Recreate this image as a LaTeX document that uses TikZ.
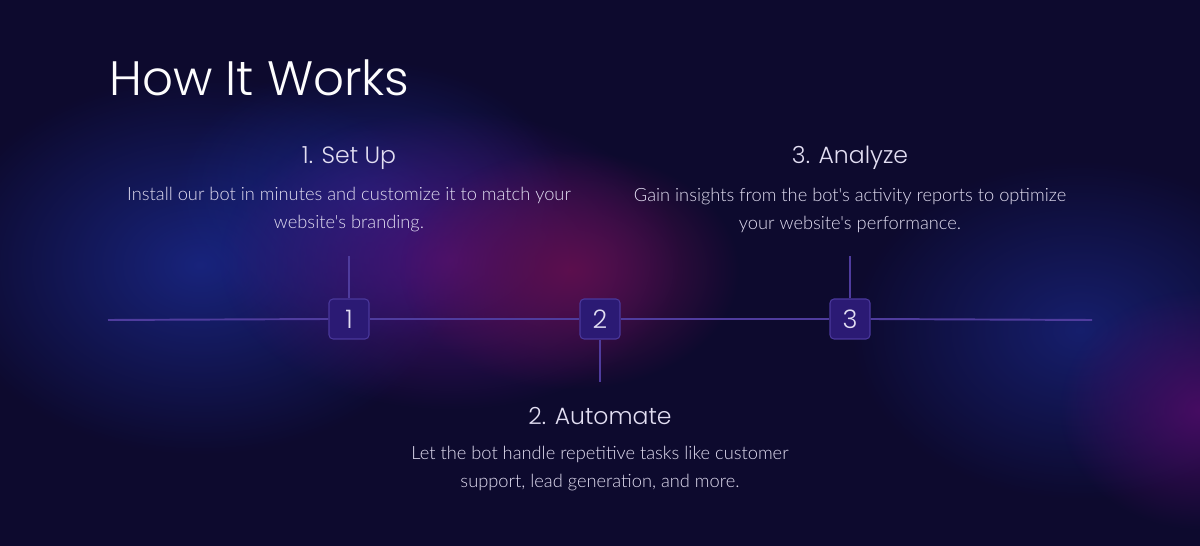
\documentclass[tikz,border=0pt]{standalone}
\usepackage{fontspec}
\usepackage{xcolor}
\usetikzlibrary{fadings}
\newfontfamily\headfont{Poppins}[UprightFont={* Light}]
\newfontfamily\bodyfont{Lato}[UprightFont={* Light}]

\definecolor{bgdark}{HTML}{0D0A2E}
\definecolor{txtlight}{HTML}{E2DEF2}
\definecolor{linepurple}{HTML}{4F3C9E}
\definecolor{boxfill}{HTML}{2B1A74}
\definecolor{boxedge}{HTML}{4A389C}
\definecolor{blobblue}{HTML}{1C2C96}
\definecolor{blobpurple}{HTML}{4E1277}
\definecolor{blobred}{HTML}{5C0F4E}
\definecolor{blobviolet}{HTML}{4C0C66}

\tikzfading[name=blobfade, inner color=transparent!0, outer color=transparent!100]

\tikzset{
  blob/.style={path fading=blobfade},
  stepbox/.style={draw=boxedge, fill=boxfill, rounded corners=0.08cm, minimum size=0.8cm,
    inner sep=0pt, line width=0.6pt, text=txtlight, font=\headfont\fontsize{14.5}{14.5}\selectfont},
  stephead/.style={text=txtlight, font=\headfont\fontsize{13.4}{15}\selectfont},
  stepbody/.style={text=txtlight, align=center, font=\bodyfont\fontsize{10.4}{15.9}\selectfont},
  timeline/.style={draw=linepurple, line width=1.1pt},
  tick/.style={draw=linepurple, line width=0.8pt}
}

\begin{document}
\begin{tikzpicture}[x=0.02cm, y=-0.02cm]
        % background
        \fill[bgdark] (0,0) rectangle (1200,546);
        \useasboundingbox (0,0) rectangle (1200,546);
        \fill[blobblue, blob, opacity=0.75] (200,265) ellipse (260 and 190);
        \fill[blobblue, blob, opacity=0.65] (370,200) ellipse (200 and 140);
        \fill[blobpurple, blob, opacity=0.9] (450,260) ellipse (230 and 150);
        \fill[blobred, blob] (570,270) ellipse (170 and 120);
        \fill[blobblue, blob, opacity=0.6] (1080,330) ellipse (230 and 170);
        \fill[blobviolet, blob, opacity=0.9] (1200,410) ellipse (140 and 120);

        \node[text=white!95!txtlight, anchor=west, font=\headfont\fontsize{27.5}{28}\selectfont] (title) at (103,78) {How It Works};

        % steps
        \node[stepbox] (s1) at (349,319) {1};
        \node[stepbox] (s2) at (600,319) {2};
        \node[stepbox] (s3) at (850,319) {3};

        \coordinate (lineL) at (108,320);
        \coordinate (lineR) at (1092,320);
        \coordinate (c1) at (349,256);
        \coordinate (c2) at (600,382);
        \coordinate (c3) at (850,256);

        \draw[timeline] (lineL) -- (s1.west);
        \draw[timeline] (s1.east) -- (s2.west);
        \draw[timeline] (s2.east) -- (s3.west);
        \draw[timeline] (s3.east) -- (lineR);
        \draw[tick] (s1.north) -- (c1);
        \draw[tick] (s2.south) -- (c2);
        \draw[tick] (s3.north) -- (c3);

        \node[stephead] (h1) at (349,158) {1. Set Up};
        \node[stepbody] (b1) at (349,210) {Install our bot in minutes and customize it to match your\\website's branding.};
        \node[stephead] (h3) at (850,158) {3. Analyze};
        \node[stepbody] (b3) at (850,210) {Gain insights from the bot's activity reports to optimize\\your website's performance.};
        \node[stephead] (h2) at (600,416) {2. Automate};
        \node[stepbody] (b2) at (600,469) {Let the bot handle repetitive tasks like customer\\support, lead generation, and more.};
    \end{tikzpicture}
\end{document}
